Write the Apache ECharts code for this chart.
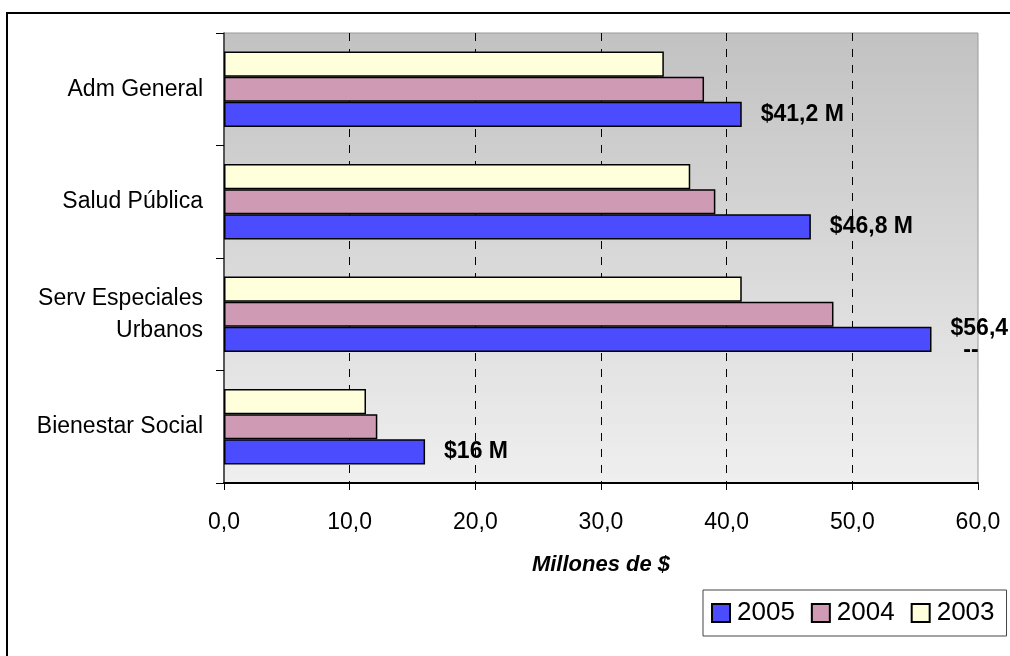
<!DOCTYPE html>
<html>
<head>
<meta charset="utf-8">
<script src="https://cdn.jsdelivr.net/npm/echarts@6/dist/echarts.min.js"></script>
<style>
	html, body { margin: 0; padding: 0; background: #fff; }
	#chart { width: 1010px; height: 656px; }
</style>
</head>
<body>
<div id="chart"></div>
<script>
// categories, bottom to top (category axis starts at the bottom)
var categories = ['Bienestar Social', 'Serv Especiales\nUrbanos', 'Salud Pública', 'Adm General'];

// millones de $
var values2003 = [11.3, 41.2, 37.1, 35.0];
var values2004 = [12.2, 48.5, 39.1, 38.2];
var values2005 = [16.0, 56.3, 46.7, 41.2];

// labels written next to the 2005 bars
var labels2005 = ['$16 M', '$56,4\n  --', '$46,8 M', '$41,2 M'];

var legendNames = ['2005', '2004', '2003'];

var font = "'Liberation Sans', Arial, sans-serif";

var chart = echarts.init(document.getElementById('chart'));

var barSeries = (name, data, color, withLabel) => ({
	name: name,
	type: 'bar',
	data: data,
	barGap: '0%',
	barCategoryGap: '33%',
	itemStyle: { color: color, borderColor: '#000', borderWidth: 1.5 },
	label: {
		show: withLabel,
		position: 'right',
		distance: 19,
		fontFamily: font,
		fontWeight: 'bold',
		fontSize: 23,
		lineHeight: 22,
		color: '#000',
		formatter: p => labels2005[p.dataIndex]
	}
});

var option = {
	animation: false,
	backgroundColor: '#fff',
	textStyle: { fontFamily: font },
	grid: {
		left: 224, right: 32, top: 33, bottom: 173,
		show: true,
		borderColor: '#999',
		borderWidth: 1,
		backgroundColor: new echarts.graphic.LinearGradient(0, 0, 0, 1, [
			{ offset: 0, color: '#c2c2c2' },
			{ offset: 1, color: '#efefef' }
		])
	},
	legend: {
		data: legendNames,
		left: 703, top: 590,
		padding: [10, 12, 10, 8],
		borderColor: '#444', borderWidth: 1,
		itemWidth: 18, itemHeight: 18, itemGap: 16,
		icon: 'rect',
		textStyle: { fontFamily: font, fontSize: 26, color: '#000', padding: [0, 0, 0, 2] }
	},
	xAxis: {
		type: 'value',
		min: 0, max: 60, interval: 10,
		name: 'Millones de $',
		nameLocation: 'middle',
		nameGap: 71,
		nameTextStyle: { fontFamily: font, fontSize: 22, fontWeight: 'bold', fontStyle: 'italic', color: '#000' },
		axisLine: { show: true, lineStyle: { color: '#000', width: 2 } },
		axisTick: { show: true, length: 7, lineStyle: { color: '#000' } },
		axisLabel: {
			margin: 28, fontFamily: font, fontSize: 23, color: '#000',
			formatter: v => v.toFixed(1).replace('.', ',')
		},
		splitLine: {
			show: true, showMinLine: false, showMaxLine: false,
			lineStyle: { color: '#000', type: [8, 8], width: 1 }
		}
	},
	yAxis: {
		type: 'category',
		data: categories,
		axisLine: { show: true, lineStyle: { color: '#333', width: 1.5 } },
		axisTick: { show: true, length: 8, lineStyle: { color: '#000' } },
		axisLabel: { margin: 21, fontFamily: font, fontSize: 23, lineHeight: 32, color: '#000', align: 'right' }
	},
	series: [
		barSeries('2003', values2003, '#ffffdc', false),
		barSeries('2004', values2004, '#cf9ab4', false),
		barSeries('2005', values2005, '#4c4cff', true)
	],
	graphic: [{
		type: 'rect',
		shape: { x: 7, y: 13, width: 1020, height: 660 },
		style: { fill: null, stroke: '#000', lineWidth: 2 },
		silent: true
	}]
};

chart.setOption(option);
</script>
</body>
</html>
